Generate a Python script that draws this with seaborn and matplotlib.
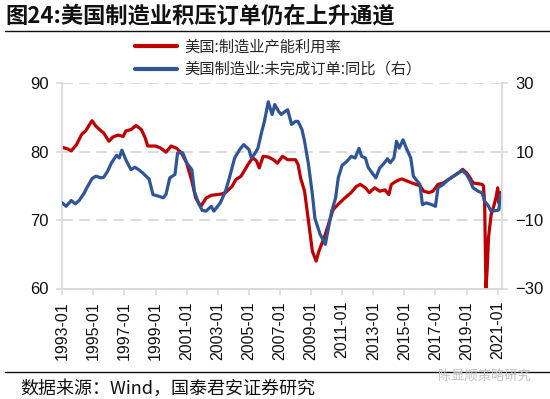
import matplotlib
matplotlib.use('Agg')
import matplotlib.pyplot as plt
from matplotlib.lines import Line2D
import seaborn as sns
import pandas as pd

# ---- data ----
cap_dates = ['1993-01','1993-05','1993-08','1993-12','1994-04','1994-07','1994-12','1995-03','1995-07','1995-09',
             '1996-01','1996-04','1996-08','1996-12','1997-02','1997-06','1997-10','1998-02','1998-05','1998-07',
             '1999-01','1999-05','1999-09','2000-01','2000-05','2000-09','2001-01','2001-05','2001-08','2001-12',
             '2002-04','2002-08','2002-12','2003-04','2003-07','2003-12','2004-03','2004-07','2005-01','2005-04',
             '2005-07','2005-09','2005-12','2006-04','2006-08','2006-11','2007-03','2007-07','2008-01','2008-03',
             '2008-05','2008-08','2008-10','2008-12','2009-02','2009-05','2009-07','2009-10','2009-12','2010-04',
             '2010-06','2010-10','2011-03','2011-08','2011-12','2012-03','2012-07','2012-10','2013-02','2013-06',
             '2013-10','2014-01','2014-03','2014-07','2014-11','2015-03','2015-07','2015-10','2016-01','2016-04',
             '2016-08','2016-11','2017-03','2017-07','2017-11','2018-03','2018-07','2018-10','2019-01','2019-04',
             '2019-06','2019-10','2020-01','2020-02','2020-03','2020-04','2020-05','2020-06','2020-08','2020-10',
             '2020-12','2021-01','2021-02','2021-03']
cap_values = [80.6, 80.4, 80.1, 81.0, 82.5, 83.0, 84.5, 83.7, 83.0, 82.7,
              81.5, 82.1, 82.4, 82.2, 83.0, 83.2, 83.8, 83.2, 82.0, 80.8,
              80.8, 80.5, 79.9, 80.8, 80.5, 79.8, 78.3, 75.7, 73.2, 72.0,
              73.2, 73.6, 73.7, 73.8, 74.0, 74.9, 75.9, 76.4, 78.3, 79.1,
              78.6, 77.6, 79.3, 79.2, 78.8, 78.3, 79.3, 78.8, 78.8, 78.1,
              76.1, 74.2, 71.3, 68.4, 65.4, 64.0, 65.4, 66.9, 67.9, 70.3,
              71.5, 72.3, 73.2, 74.0, 74.9, 75.2, 74.7, 74.0, 74.7, 74.2,
              74.4, 73.7, 75.2, 75.7, 76.0, 75.7, 75.4, 75.2, 75.0, 74.2,
              74.0, 74.2, 75.2, 75.4, 75.9, 76.4, 76.9, 77.4, 76.9, 76.1,
              75.4, 75.3, 75.2, 75.0, 72.5, 60.0, 63.0, 67.5, 70.8, 72.0,
              73.5, 74.7, 72.5, 74.0]

ord_dates = ['1993-01','1993-04','1993-08','1993-11','1994-02','1994-06','1994-08','1994-12','1995-03','1995-07',
             '1995-09','1995-12','1996-03','1996-07','1996-09','1996-11','1997-02','1997-06','1997-09','1997-12',
             '1998-03','1998-07','1998-08','1998-11','1999-03','1999-07','1999-09','1999-12','2000-04','2000-06',
             '2000-10','2001-01','2001-05','2001-07','2001-10','2002-01','2002-04','2002-08','2002-10','2003-03',
             '2003-07','2003-10','2004-02','2004-06','2004-09','2005-01','2005-03','2005-06','2005-08','2005-11',
             '2006-01','2006-04','2006-07','2006-09','2006-12','2007-02','2007-05','2007-07','2007-10','2008-01',
             '2008-03','2008-06','2008-08','2008-11','2009-02','2009-04','2009-08','2009-11','2009-12','2010-03',
             '2010-05','2010-08','2010-10','2011-01','2011-05','2011-08','2011-11','2012-02','2012-04','2012-07',
             '2012-09','2012-12','2013-03','2013-06','2013-09','2013-12','2014-02','2014-05','2014-07','2014-09',
             '2014-12','2015-03','2015-06','2015-08','2015-10','2016-01','2016-03','2016-06','2016-10','2017-01',
             '2017-03','2017-07','2017-11','2018-03','2018-07','2018-10','2019-01','2019-04','2019-06','2019-10',
             '2020-01','2020-03','2020-06','2020-08','2021-01','2021-02','2021-03']
ord_values = [-5.0, -6.0, -4.3, -5.3, -4.3, -2.1, -0.6, 2.1, 2.8, 2.3,
              2.5, 4.2, 6.7, 8.9, 8.1, 10.4, 7.6, 4.7, 5.4, 4.7,
              3.8, 2.3, 2.0, -2.6, -3.0, -3.5, -2.6, 2.3, 3.3, 9.6,
              9.6, 6.7, 4.7, -1.6, -5.0, -7.2, -7.4, -6.0, -7.4, -5.0,
              -1.6, 2.3, 8.1, 10.6, 12.0, 10.6, 8.1, 9.6, 11.0, 15.9,
              18.8, 24.5, 20.8, 23.7, 21.7, 20.8, 21.7, 22.2, 17.9, 18.8,
              18.8, 16.4, 13.0, 6.2, -2.6, -9.5, -14.2, -16.2, -17.1, -11.3,
              -7.4, -3.5, 2.3, 6.0, 7.2, 8.6, 8.1, 10.9, 8.6, 8.1,
              5.4, 3.8, 2.3, 5.2, 6.4, 7.9, 6.7, 8.1, 13.0, 11.0,
              13.4, 10.6, 8.1, 2.8, 1.8, 0.4, -5.5, -5.0, -5.5, -6.0,
              -0.6, 0.4, 1.8, 2.8, 3.8, 4.4, 3.3, 1.3, -0.6, -1.6,
              -2.1, -4.5, -6.0, -7.4, -7.2, -6.9, -2.6]

tick_years = list(range(1993, 2022, 2))
left_ticks = [60, 70, 80, 90]
right_ticks = [-30, -10, 10, 30]
label_cap = '美国:制造业产能利用率'
label_ord = '美国制造业:未完成订单:同比（右）'
title = '图24:美国制造业积压订单仍在上升通道'
source = '数据来源：Wind，国泰君安证券研究'
watermark = '陈显顺策略研究'

RED = '#C00000'
BLUE = '#2E5597'
GRID = '#D9D9D9'

sns.set_theme(style='white')
plt.rcParams['font.family'] = ['Liberation Sans', 'DejaVu Sans']
CJK = ['Noto Sans CJK SC', 'DejaVu Sans']

cap = pd.DataFrame({'date': pd.to_datetime(cap_dates), 'value': cap_values})
ords = pd.DataFrame({'date': pd.to_datetime(ord_dates), 'value': ord_values})

fig = plt.figure(figsize=(5.5, 3.99), dpi=100)
ax = fig.add_axes([62.3 / 550, 1 - 288.5 / 399, (501.5 - 62.3) / 550, (288.5 - 83) / 399])
ax2 = ax.twinx()

sns.lineplot(data=cap, x='date', y='value', ax=ax, color=RED, lw=2.3)
sns.lineplot(data=ords, x='date', y='value', ax=ax2, color=BLUE, lw=2.3)

ax.set_xlim(pd.Timestamp('1993-01-01'), pd.Timestamp('2021-04-01'))
ax.set_ylim(60, 90)
ax2.set_ylim(-30, 30)
ax.set_yticks(left_ticks)
ax2.set_yticks(right_ticks)
ax.set_xticks([pd.Timestamp(f'{y}-01-01') for y in tick_years])
ax.set_xticklabels([f'{y}-01' for y in tick_years], rotation=90)
for a in (ax, ax2):
    a.set_xlabel('')
    a.set_ylabel('')

ax.yaxis.grid(True, color=GRID, linestyle=(0, (6, 3.5)), lw=1.3)
ax.xaxis.grid(False)
ax2.grid(False)

for s in ('top', 'right'):
    ax.spines[s].set_visible(False)
for s in ('top', 'left', 'bottom'):
    ax2.spines[s].set_visible(False)
for s in ('left', 'bottom'):
    ax.spines[s].set_color(GRID)
    ax.spines[s].set_linewidth(1.3)
ax2.spines['right'].set_color(GRID)
ax2.spines['right'].set_linewidth(1.3)

ax.tick_params(axis='x', direction='out', length=4, width=1.2, color=GRID,
               labelsize=11.5, pad=5, labelcolor='#111111', bottom=True)
ax.tick_params(axis='y', direction='out', length=4, width=1.2, color=GRID,
               labelsize=12, pad=6, labelcolor='#111111', left=True)
ax2.tick_params(axis='y', direction='out', length=4, width=1.2, color=GRID,
                labelsize=12, pad=6, labelcolor='#111111', right=True)

handles = [Line2D([], [], color=RED, lw=3), Line2D([], [], color=BLUE, lw=3)]
fig.legend(handles, [label_cap, label_ord], loc='upper left',
           bbox_to_anchor=(135 / 550, 1 - 38.5 / 399), frameon=False,
           borderpad=0, borderaxespad=0, handlelength=2.75, handletextpad=0.45,
           labelspacing=0.35, prop={'family': CJK, 'size': 11})

fig.text(5 / 550, 1 - 16 / 399, title, fontsize=16, fontweight='bold',
         family=CJK, va='center', ha='left', color='#111111')
fig.add_artist(Line2D([5 / 550, 1], [1 - 31 / 399] * 2, color='#111111', lw=1.0))
fig.add_artist(Line2D([5 / 550, 1], [1 - 372 / 399] * 2, color='#111111', lw=1.0))
fig.text(20 / 550, 1 - 389 / 399, source, fontsize=13, family=CJK,
         va='center', ha='left', color='#111111')
fig.text(531 / 550, 1 - 377 / 399, watermark, fontsize=9.5, family=CJK,
         va='center', ha='right', color='#C4C4C4')

fig.savefig('out.png', dpi=100)
